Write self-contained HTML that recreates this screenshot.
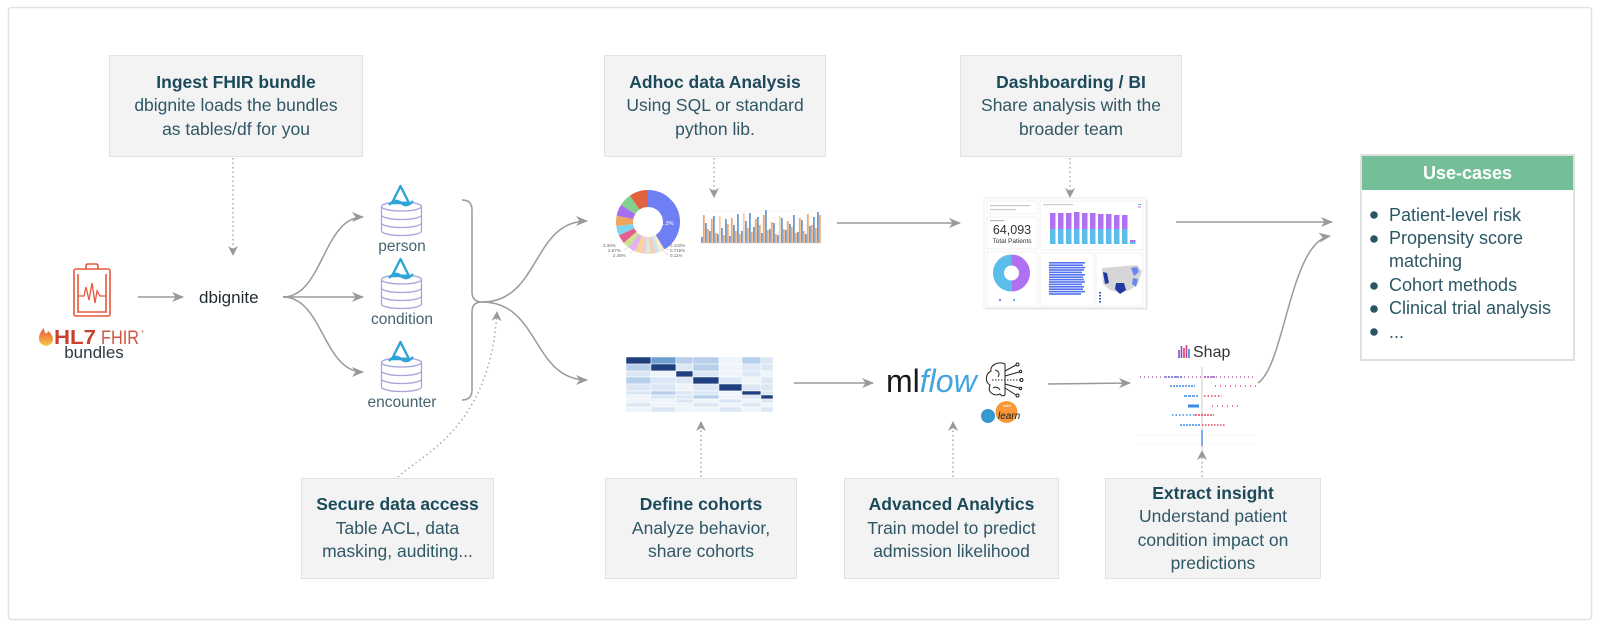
<!DOCTYPE html>
<html><head><meta charset="utf-8">
<style>
html,body{margin:0;padding:0;background:#fff;}
body{width:1600px;height:627px;position:relative;overflow:hidden;font-family:"Liberation Sans",sans-serif;}
svg{position:absolute;left:0;top:0;}
.box{position:absolute;box-sizing:border-box;background:#f3f3f3;border:1.5px solid #e2e2e2;display:flex;flex-direction:column;justify-content:center;align-items:center;text-align:center;font-size:17.5px;line-height:23.5px;color:#2f5766;white-space:nowrap;}
.box b{color:#1d4a5a;font-weight:bold;}
.uc{position:absolute;left:1360px;top:154px;width:215px;height:207px;box-sizing:border-box;border:2px solid #e0e0e0;background:#fff;}
.uch{height:34px;background:#74bf98;color:#fff;font-weight:bold;font-size:18px;line-height:34px;text-align:center;}
.ucl{position:absolute;left:1389px;top:203.5px;font-size:18px;line-height:23.4px;color:#2c5866;white-space:nowrap;}
</style></head><body>
<div class="uc"><div class="uch">Use-cases</div></div>
<div class="ucl">Patient-level risk<br>Propensity score<br>matching<br>Cohort methods<br>Clinical trial analysis<br>...</div>

<svg width="1600" height="627" viewBox="0 0 1600 627">
<defs>
<marker id="ah" markerWidth="12" markerHeight="10" refX="11" refY="5" orient="auto" markerUnits="userSpaceOnUse"><path d="M0,0 L12,5 L0,10 L3.5,5 Z" fill="#999"/></marker>
<marker id="ad" markerWidth="10" markerHeight="10" refX="9" refY="5" orient="auto" markerUnits="userSpaceOnUse"><path d="M0,0 L10,5 L0,10 L3,5 Z" fill="#999"/></marker>
<linearGradient id="fl" x1="0" y1="1" x2="0" y2="0"><stop offset="0" stop-color="#f7c844"/><stop offset="1" stop-color="#e8543a"/></linearGradient>
</defs>

<!-- outer border -->
<rect x="8.5" y="7.5" width="1583" height="612" rx="3" fill="none" stroke="#e2e2e2" stroke-width="1.5"/>

<!-- Use-cases bullets -->
<g fill="#2a5664">
<circle cx="1374" cy="215" r="3.8"/><circle cx="1374" cy="239" r="3.8"/><circle cx="1374" cy="286" r="3.8"/><circle cx="1374" cy="309" r="3.8"/><circle cx="1374" cy="332" r="3.8"/>
</g>

<!-- solid connectors -->
<g fill="none" stroke="#9a9a9a" stroke-width="1.5">
<line x1="138" y1="297" x2="183" y2="297" marker-end="url(#ah)"/>
<path d="M283,297 C323,297 323,217 363,217" marker-end="url(#ah)"/>
<line x1="283" y1="297" x2="363" y2="297" marker-end="url(#ah)"/>
<path d="M283,297 C323,297 323,372 363,372" marker-end="url(#ah)"/>
<path d="M462,200 Q472,200 472,210 L472,292 Q472,302 482,302 Q472,302 472,312 L472,390 Q472,400 462,400"/>
<path d="M482,302 C540,302 532,221 587,221" marker-end="url(#ah)"/>
<path d="M482,302 C540,302 532,380 587,380" marker-end="url(#ah)"/>
<line x1="837" y1="223" x2="960" y2="223" marker-end="url(#ah)"/>
<line x1="1176" y1="222" x2="1332" y2="222" marker-end="url(#ah)"/>
<line x1="794" y1="383" x2="873" y2="383" marker-end="url(#ah)"/>
<line x1="1048" y1="384" x2="1130" y2="383" marker-end="url(#ah)"/>
<path d="M1258,383 C1285,365 1290,242 1330,236" marker-end="url(#ah)"/>
</g>

<!-- dotted connectors -->
<g fill="none" stroke="#aaa" stroke-width="1.5" stroke-dasharray="1.5 3">
<line x1="233" y1="158" x2="233" y2="255" marker-end="url(#ad)"/>
<line x1="714" y1="158" x2="714" y2="197" marker-end="url(#ad)"/>
<line x1="1070" y1="158" x2="1070" y2="197" marker-end="url(#ad)"/>
<path d="M398,477 C420,455 490,430 497,312" marker-end="url(#ad)"/>
<line x1="701" y1="477" x2="701" y2="422" marker-end="url(#ad)"/>
<line x1="953" y1="477" x2="953" y2="422" marker-end="url(#ad)"/>
<line x1="1202" y1="477" x2="1202" y2="451" marker-end="url(#ad)"/>
</g>

<!-- HL7 icon -->
<g fill="none" stroke="#e8573c" stroke-width="1.6">
<rect x="74" y="269" width="36" height="47" rx="2"/>
<path d="M86,269 L86,266 Q86,264 88,264 L96,264 Q98,264 98,266 L98,269"/>
<path d="M78,274 L78,312 L106,312 L106,274"/>
<path d="M78,296 L84,296 L86,287 L89,300 L92,283 L95,303 L97,291 L100,296 L106,296" stroke-width="1.3"/>
</g>
<path d="M46,346 C37,344 37,335 44,328 C44,334 47,335 48,331 C54,335 56,344 46,346 Z" fill="url(#fl)"/>
<text x="54" y="344" font-size="20" font-weight="bold" fill="#c8412e" textLength="42" lengthAdjust="spacingAndGlyphs">HL7</text>
<text x="101" y="344" font-size="19" fill="#d0533f" textLength="38" lengthAdjust="spacingAndGlyphs">FHIR</text>
<text x="141" y="333" font-size="4" fill="#d0533f">®</text>
<text x="94" y="358" font-size="17" fill="#2e3b43" text-anchor="middle">bundles</text>
<text x="199" y="303" font-size="17" fill="#1f2a30">dbignite</text>

<!-- DB cylinders -->
<g fill="#fff" stroke="#a6a6dd" stroke-width="1.3">
<path d="M381.5,206.5 V231 A20,4.5 0 0 0 421.5,231 V206.5"/><ellipse cx="401.5" cy="206.5" rx="20" ry="4.5"/>
<path d="M381.5,215 A20,4.5 0 0 0 421.5,215 M381.5,223 A20,4.5 0 0 0 421.5,223" fill="none"/>
<path d="M381.5,279.5 V304 A20,4.5 0 0 0 421.5,304 V279.5"/><ellipse cx="401.5" cy="279.5" rx="20" ry="4.5"/>
<path d="M381.5,288 A20,4.5 0 0 0 421.5,288 M381.5,296 A20,4.5 0 0 0 421.5,296" fill="none"/>
<path d="M381.5,362.5 V387 A20,4.5 0 0 0 421.5,387 V362.5"/><ellipse cx="401.5" cy="362.5" rx="20" ry="4.5"/>
<path d="M381.5,371 A20,4.5 0 0 0 421.5,371 M381.5,379 A20,4.5 0 0 0 421.5,379" fill="none"/>
</g>
<g fill="none" stroke="#2ea5d6" stroke-width="2.4" stroke-linejoin="round">
<path d="M400.5,186 L392,203 L409,203 Z"/><path d="M389,205 Q395,198 401,203 Q407,208 413,201"/>
<path d="M400.5,259 L392,276 L409,276 Z"/><path d="M389,278 Q395,271 401,276 Q407,281 413,274"/>
<path d="M400.5,342 L392,359 L409,359 Z"/><path d="M389,361 Q395,354 401,359 Q407,364 413,357"/>
</g>
<g font-size="15.5" fill="#46636f" text-anchor="middle">
<text x="402" y="251">person</text><text x="402" y="324">condition</text><text x="402" y="407">encounter</text>
</g>

<!-- Pie chart -->
<g transform="rotate(-90 648 222)" fill="none" stroke-width="17">
<circle cx="648" cy="222" r="23.5" stroke="#6e7ff3" stroke-dasharray="61.11 200" stroke-dashoffset="0"/>
<circle cx="648" cy="222" r="23.5" stroke="#f6eec8" stroke-dasharray="3.69 200" stroke-dashoffset="-61.11"/>
<circle cx="648" cy="222" r="23.5" stroke="#cfe3ee" stroke-dasharray="3.28 200" stroke-dashoffset="-64.80"/>
<circle cx="648" cy="222" r="23.5" stroke="#f2cdbf" stroke-dasharray="3.69 200" stroke-dashoffset="-68.08"/>
<circle cx="648" cy="222" r="23.5" stroke="#d6ecd0" stroke-dasharray="3.69 200" stroke-dashoffset="-71.77"/>
<circle cx="648" cy="222" r="23.5" stroke="#f3c6dc" stroke-dasharray="3.69 200" stroke-dashoffset="-75.46"/>
<circle cx="648" cy="222" r="23.5" stroke="#f7d98c" stroke-dasharray="4.10 200" stroke-dashoffset="-79.16"/>
<circle cx="648" cy="222" r="23.5" stroke="#e2b3f3" stroke-dasharray="5.74 200" stroke-dashoffset="-83.26"/>
<circle cx="648" cy="222" r="23.5" stroke="#c9e58f" stroke-dasharray="4.92 200" stroke-dashoffset="-89.00"/>
<circle cx="648" cy="222" r="23.5" stroke="#e55f8f" stroke-dasharray="6.56 200" stroke-dashoffset="-93.92"/>
<circle cx="648" cy="222" r="23.5" stroke="#7fd4f2" stroke-dasharray="6.97 200" stroke-dashoffset="-100.48"/>
<circle cx="648" cy="222" r="23.5" stroke="#f0a55c" stroke-dasharray="7.79 200" stroke-dashoffset="-107.46"/>
<circle cx="648" cy="222" r="23.5" stroke="#a56ff2" stroke-dasharray="8.61 200" stroke-dashoffset="-115.25"/>
<circle cx="648" cy="222" r="23.5" stroke="#84d08f" stroke-dasharray="9.43 200" stroke-dashoffset="-123.86"/>
<circle cx="648" cy="222" r="23.5" stroke="#e0623f" stroke-dasharray="14.35 200" stroke-dashoffset="-133.30"/>
</g>
<text x="658" y="225" font-size="5.5" fill="#fff">41.3%</text>
<g stroke="#bbb" stroke-width="0.5"><line x1="630" y1="246" x2="624" y2="250"/><line x1="634" y1="249" x2="630" y2="254"/><line x1="664" y1="248" x2="669" y2="250"/><line x1="662" y1="250" x2="668" y2="255"/></g>
<g font-size="4.5" fill="#666"><text x="603" y="247">3.34%</text><text x="608" y="252">2.67%</text><text x="613" y="257">2.48%</text><text x="670" y="247">0.132%</text><text x="670" y="252">0.715%</text><text x="670" y="257">0.11%</text></g>

<!-- Bar chart -->
<g stroke="#efefef" stroke-width="0.5"><line x1="700" y1="211" x2="821" y2="211"/><line x1="700" y1="218" x2="821" y2="218"/><line x1="700" y1="225" x2="821" y2="225"/><line x1="700" y1="232" x2="821" y2="232"/><line x1="700" y1="239" x2="821" y2="239"/></g>
<g fill="#6a9bd3">
<rect x="701" y="237" width="1.8" height="6"/><rect x="705" y="223" width="1.8" height="20"/><rect x="709" y="231" width="1.8" height="12"/><rect x="713" y="216" width="1.8" height="27"/><rect x="717" y="234" width="1.8" height="9"/><rect x="721" y="228" width="1.8" height="15"/><rect x="725" y="219" width="1.8" height="24"/><rect x="729" y="236" width="1.8" height="7"/><rect x="733" y="225" width="1.8" height="18"/><rect x="737" y="214" width="1.8" height="29"/><rect x="741" y="231" width="1.8" height="12"/><rect x="745" y="221" width="1.8" height="22"/><rect x="749" y="213" width="1.8" height="30"/><rect x="753" y="227" width="1.8" height="16"/><rect x="757" y="217" width="1.8" height="26"/><rect x="761" y="233" width="1.8" height="10"/><rect x="765" y="210" width="1.8" height="33"/><rect x="769" y="229" width="1.8" height="14"/><rect x="773" y="223" width="1.8" height="20"/><rect x="777" y="235" width="1.8" height="8"/><rect x="781" y="218" width="1.8" height="25"/><rect x="785" y="230" width="1.8" height="13"/><rect x="789" y="224" width="1.8" height="19"/><rect x="793" y="215" width="1.8" height="28"/><rect x="797" y="232" width="1.8" height="11"/><rect x="801" y="220" width="1.8" height="23"/><rect x="805" y="234" width="1.8" height="9"/><rect x="809" y="226" width="1.8" height="17"/><rect x="813" y="217" width="1.8" height="26"/><rect x="817" y="212" width="1.8" height="31"/>
</g>
<g fill="#f0a86a">
<rect x="702.9" y="215" width="1.8" height="28"/><rect x="706.9" y="229" width="1.8" height="14"/><rect x="710.9" y="219" width="1.8" height="24"/><rect x="714.9" y="233" width="1.8" height="10"/><rect x="718.9" y="216" width="1.8" height="27" fill="#f8cfa8"/><rect x="722.9" y="235" width="1.8" height="8"/><rect x="726.9" y="224" width="1.8" height="19"/><rect x="730.9" y="218" width="1.8" height="25"/><rect x="734.9" y="231" width="1.8" height="12"/><rect x="738.9" y="234" width="1.8" height="9"/><rect x="742.9" y="213" width="1.8" height="30" fill="#f8cfa8"/><rect x="746.9" y="228" width="1.8" height="15"/><rect x="750.9" y="232" width="1.8" height="11"/><rect x="754.9" y="219" width="1.8" height="24"/><rect x="758.9" y="225" width="1.8" height="18"/><rect x="762.9" y="215" width="1.8" height="28"/><rect x="766.9" y="230" width="1.8" height="13"/><rect x="770.9" y="222" width="1.8" height="21"/><rect x="774.9" y="234" width="1.8" height="9"/><rect x="778.9" y="216" width="1.8" height="27" fill="#f8cfa8"/><rect x="782.9" y="229" width="1.8" height="14"/><rect x="786.9" y="221" width="1.8" height="22"/><rect x="790.9" y="227" width="1.8" height="16"/><rect x="794.9" y="233" width="1.8" height="10"/><rect x="798.9" y="218" width="1.8" height="25"/><rect x="802.9" y="231" width="1.8" height="12"/><rect x="806.9" y="214" width="1.8" height="29"/><rect x="810.9" y="225" width="1.8" height="18"/><rect x="814.9" y="228" width="1.8" height="15"/><rect x="818.9" y="215" width="1.8" height="28"/>
</g>
<line x1="700" y1="243" x2="821" y2="243" stroke="#ccc" stroke-width="0.6"/>

<!-- Dashboard -->
<rect x="985.5" y="199.5" width="162" height="110" fill="#e4e4e4"/>
<rect x="984" y="198" width="162" height="110" fill="#fff" stroke="#e6e6e6" stroke-width="0.8"/>
<g fill="#fff" stroke="#ececec" stroke-width="0.7">
<rect x="987" y="201" width="50" height="13"/><rect x="987" y="217" width="50" height="32"/><rect x="987" y="252" width="50" height="54"/>
<rect x="1040" y="201" width="103" height="49"/><rect x="1040" y="253" width="54" height="53"/><rect x="1096" y="253" width="47" height="53"/>
</g>
<rect x="990" y="205" width="40" height="1.2" fill="#c8c8c8"/><rect x="990" y="209" width="26" height="1.2" fill="#c8c8c8"/>
<rect x="990" y="220" width="14" height="1.2" fill="#bbb"/>
<text x="1012" y="234" font-size="12.5" fill="#333" text-anchor="middle">64,093</text>
<text x="1012" y="243" font-size="6.5" fill="#333" text-anchor="middle">Total Patients</text>
<g transform="rotate(-90 1011.5 273)" fill="none" stroke-width="11">
<circle cx="1011.5" cy="273" r="13" stroke="#b070f2" stroke-dasharray="40.84 100"/>
<circle cx="1011.5" cy="273" r="13" stroke="#5bbde8" stroke-dasharray="40.84 100" stroke-dashoffset="-40.84"/>
</g>
<circle cx="1000" cy="300" r="1.2" fill="#b070f2"/><circle cx="1014" cy="300" r="1.2" fill="#5bbde8"/>
<rect x="1043" y="204" width="30" height="1.2" fill="#ccc"/>
<g fill="#b070f2">
<rect x="1050" y="213" width="5.5" height="16"/><rect x="1058" y="213" width="5.5" height="16"/><rect x="1066" y="213" width="5.5" height="16"/><rect x="1074" y="212" width="5.5" height="17"/><rect x="1082" y="213" width="5.5" height="16"/><rect x="1090" y="213" width="5.5" height="16"/><rect x="1098" y="214" width="5.5" height="15"/><rect x="1106" y="214" width="5.5" height="15"/><rect x="1114" y="215" width="5.5" height="14"/><rect x="1122" y="215" width="5.5" height="14"/><rect x="1130" y="240" width="5.5" height="2"/>
</g>
<g fill="#5bbde8">
<rect x="1050" y="229" width="5.5" height="15"/><rect x="1058" y="229" width="5.5" height="15"/><rect x="1066" y="229" width="5.5" height="15"/><rect x="1074" y="229" width="5.5" height="15"/><rect x="1082" y="229" width="5.5" height="15"/><rect x="1090" y="229" width="5.5" height="15"/><rect x="1098" y="229" width="5.5" height="15"/><rect x="1106" y="229" width="5.5" height="15"/><rect x="1114" y="229" width="5.5" height="15"/><rect x="1122" y="229" width="5.5" height="15"/><rect x="1130" y="242" width="5.5" height="2"/>
</g>
<rect x="1138" y="204" width="3" height="1" fill="#5bbde8"/><rect x="1138" y="206.5" width="3" height="1" fill="#b070f2"/>
<g fill="#5271ee">
<rect x="1049" y="262" width="36" height="1.6"/><rect x="1049" y="264.4" width="34" height="1.6"/><rect x="1049" y="266.8" width="36" height="1.6"/><rect x="1049" y="269.2" width="35" height="1.6"/><rect x="1049" y="271.6" width="33" height="1.6"/><rect x="1049" y="274" width="36" height="1.6"/><rect x="1049" y="276.4" width="34" height="1.6"/><rect x="1049" y="278.8" width="35" height="1.6"/><rect x="1049" y="281.2" width="36" height="1.6"/><rect x="1049" y="283.6" width="33" height="1.6"/><rect x="1049" y="286" width="35" height="1.6"/><rect x="1049" y="288.4" width="34" height="1.6"/><rect x="1049" y="290.8" width="36" height="1.6"/><rect x="1049" y="293.2" width="32" height="1.6"/>
</g>
<path d="M1102,268 L1137,265 L1142,271 L1138,284 L1130,290 L1120,293 L1110,290 L1103,284 Z" fill="#d6d6d6"/>
<path d="M1103,272 L1107,273 L1109,283 L1105,284 Z" fill="#1f3aa0"/>
<path d="M1116,283 L1124,283 L1126,290 L1120,294 L1115,289 Z" fill="#1f3aa0"/>
<path d="M1131,268 L1137,267 L1139,272 L1134,276 Z" fill="#6a86f0"/>
<path d="M1133,278 L1138,279 L1136,287 L1132,284 Z" fill="#6a86f0"/>
<g fill="#3050c8"><rect x="1099" y="292" width="2" height="1.5"/><rect x="1099" y="295" width="2" height="1.5"/><rect x="1099" y="298" width="2" height="1.5"/><rect x="1099" y="301" width="2" height="1.5"/></g>

<!-- Table heatmap -->
<g stroke="#fff" stroke-width="0.5">
<rect x="626" y="357" width="25" height="7" fill="#1f3f7e"/><rect x="651" y="357" width="25" height="7" fill="#6f9fd0"/><rect x="676" y="357" width="17" height="7" fill="#b7cfea"/><rect x="693" y="357" width="26" height="7" fill="#b7cfea"/><rect x="719" y="357" width="23" height="7" fill="#eef4fa"/><rect x="742" y="357" width="19" height="7" fill="#b7cfea"/><rect x="761" y="357" width="12" height="7" fill="#dbe7f4"/>
<rect x="626" y="364" width="25" height="7" fill="#b7cfea"/><rect x="651" y="364" width="25" height="7" fill="#1f3f7e"/><rect x="676" y="364" width="17" height="7" fill="#dbe7f4"/><rect x="693" y="364" width="26" height="7" fill="#b7cfea"/><rect x="719" y="364" width="23" height="7" fill="#eef4fa"/><rect x="742" y="364" width="19" height="7" fill="#dbe7f4"/><rect x="761" y="364" width="12" height="7" fill="#dbe7f4"/>
<rect x="626" y="371" width="25" height="6" fill="#dbe7f4"/><rect x="651" y="371" width="25" height="6" fill="#eef4fa"/><rect x="676" y="371" width="17" height="6" fill="#1f3f7e"/><rect x="693" y="371" width="26" height="6" fill="#dbe7f4"/><rect x="719" y="371" width="23" height="6" fill="#eef4fa"/><rect x="742" y="371" width="19" height="6" fill="#dbe7f4"/><rect x="761" y="371" width="12" height="6" fill="#eef4fa"/>
<rect x="626" y="377" width="25" height="7" fill="#b7cfea"/><rect x="651" y="377" width="25" height="7" fill="#dbe7f4"/><rect x="676" y="377" width="17" height="7" fill="#dbe7f4"/><rect x="693" y="377" width="26" height="7" fill="#1f3f7e"/><rect x="719" y="377" width="23" height="7" fill="#dbe7f4"/><rect x="742" y="377" width="19" height="7" fill="#eef4fa"/><rect x="761" y="377" width="12" height="7" fill="#dbe7f4"/>
<rect x="626" y="384" width="25" height="7" fill="#dbe7f4"/><rect x="651" y="384" width="25" height="7" fill="#dbe7f4"/><rect x="676" y="384" width="17" height="7" fill="#eef4fa"/><rect x="693" y="384" width="26" height="7" fill="#dbe7f4"/><rect x="719" y="384" width="23" height="7" fill="#1f3f7e"/><rect x="742" y="384" width="19" height="7" fill="#dbe7f4"/><rect x="761" y="384" width="12" height="7" fill="#dbe7f4"/>
<rect x="626" y="391" width="25" height="4" fill="#dbe7f4"/><rect x="651" y="391" width="25" height="4" fill="#b7cfea"/><rect x="676" y="391" width="17" height="4" fill="#dbe7f4"/><rect x="693" y="391" width="26" height="4" fill="#dbe7f4"/><rect x="719" y="391" width="23" height="4" fill="#eef4fa"/><rect x="742" y="391" width="19" height="4" fill="#1f3f7e"/><rect x="761" y="391" width="12" height="4" fill="#dbe7f4"/>
<rect x="626" y="395" width="25" height="4" fill="#eef4fa"/><rect x="651" y="395" width="25" height="4" fill="#dbe7f4"/><rect x="676" y="395" width="17" height="4" fill="#dbe7f4"/><rect x="693" y="395" width="26" height="4" fill="#b7cfea"/><rect x="719" y="395" width="23" height="4" fill="#eef4fa"/><rect x="742" y="395" width="19" height="4" fill="#dbe7f4"/><rect x="761" y="395" width="12" height="4" fill="#1f3f7e"/>
<rect x="626" y="399" width="25" height="4" fill="#eef4fa"/><rect x="651" y="399" width="25" height="4" fill="#eef4fa"/><rect x="676" y="399" width="17" height="4" fill="#dbe7f4"/><rect x="693" y="399" width="26" height="4" fill="#eef4fa"/><rect x="719" y="399" width="23" height="4" fill="#dbe7f4"/><rect x="742" y="399" width="19" height="4" fill="#eef4fa"/><rect x="761" y="399" width="12" height="4" fill="#dbe7f4"/>
<rect x="626" y="403" width="25" height="4" fill="#dbe7f4"/><rect x="651" y="403" width="25" height="4" fill="#eef4fa"/><rect x="676" y="403" width="17" height="4" fill="#eef4fa"/><rect x="693" y="403" width="26" height="4" fill="#dbe7f4"/><rect x="719" y="403" width="23" height="4" fill="#eef4fa"/><rect x="742" y="403" width="19" height="4" fill="#dbe7f4"/><rect x="761" y="403" width="12" height="4" fill="#eef4fa"/>
<rect x="626" y="407" width="25" height="5" fill="#eef4fa"/><rect x="651" y="407" width="25" height="5" fill="#dbe7f4"/><rect x="676" y="407" width="17" height="5" fill="#eef4fa"/><rect x="693" y="407" width="26" height="5" fill="#eef4fa"/><rect x="719" y="407" width="23" height="5" fill="#dbe7f4"/><rect x="742" y="407" width="19" height="5" fill="#eef4fa"/><rect x="761" y="407" width="12" height="5" fill="#dbe7f4"/>
</g>

<!-- mlflow -->
<text x="886" y="392" font-size="32"><tspan fill="#1a1a1a">ml</tspan><tspan fill="#43a4e0" font-style="italic">flow</tspan></text>
<g fill="none" stroke="#222" stroke-width="1">
<path d="M1005,364 C998,361 990,365 991,371 C985,374 985,382 990,385 C987,392 994,397 1000,394 C1002,397 1005,396 1005,394 Z"/>
<path d="M995,370 C999,371 1000,374 998,377 M993,388 C996,386 999,388 1000,390"/>
<line x1="992" y1="380" x2="1020" y2="380" stroke-dasharray="1.5 1.5"/>
<path d="M1005,371 L1016,365 M1005,388 L1016,395 M1005,376 L1019,372 M1005,384 L1019,388"/>
<circle cx="1017.5" cy="364.5" r="1.5"/><circle cx="1021.5" cy="380" r="1.5"/><circle cx="1017.5" cy="395.5" r="1.5"/><circle cx="1020.5" cy="371.5" r="1.2"/><circle cx="1020.5" cy="388.5" r="1.2"/>
</g>
<circle cx="988" cy="416" r="7" fill="#3499cd"/>
<circle cx="1006.5" cy="412" r="11" fill="#f89939"/>
<text x="998" y="419" font-size="10" font-style="italic" fill="#1a1a1a">learn</text>
<text x="1003" y="407" font-size="3.5" fill="#fff">scikit</text>

<!-- Shap -->
<g stroke-width="1.6"><line x1="1179" y1="350" x2="1179" y2="358" stroke="#7b4fd0"/><line x1="1181.5" y1="346" x2="1181.5" y2="358" stroke="#a04aa8"/><line x1="1184" y1="348" x2="1184" y2="358" stroke="#e0405a"/><line x1="1186.5" y1="345" x2="1186.5" y2="358" stroke="#c04a90"/><line x1="1189" y1="349" x2="1189" y2="358" stroke="#3b7be8"/></g>
<text x="1193" y="357" font-size="16" fill="#333">Shap</text>
<line x1="1202" y1="367" x2="1202" y2="450" stroke="#c8c8c8" stroke-width="1"/>
<g fill="none" stroke-width="1.6">
<line x1="1140" y1="377" x2="1256" y2="377" stroke="#b46aa8" stroke-dasharray="1 3"/>
<line x1="1165" y1="377" x2="1182" y2="377" stroke="#5b6be0" stroke-dasharray="2 1"/>
<line x1="1204" y1="377" x2="1216" y2="377" stroke="#a050c0" stroke-dasharray="2 1"/>
<line x1="1170" y1="386" x2="1195" y2="386" stroke="#3b8beb" stroke-dasharray="2 1"/>
<line x1="1215" y1="386" x2="1256" y2="386" stroke="#e8435a" stroke-dasharray="1 4"/>
<line x1="1184" y1="396" x2="1198" y2="396" stroke="#3b8beb" stroke-dasharray="3 1"/>
<line x1="1204" y1="396" x2="1222" y2="396" stroke="#e8435a" stroke-dasharray="1.5 2"/>
<line x1="1188" y1="406" x2="1199" y2="406" stroke="#3b8beb" stroke-width="3"/>
<line x1="1212" y1="406" x2="1242" y2="406" stroke="#e8435a" stroke-dasharray="1 4"/>
<line x1="1172" y1="415" x2="1195" y2="415" stroke="#3b8beb" stroke-dasharray="1.5 2"/>
<line x1="1195" y1="415" x2="1214" y2="415" stroke="#e8435a" stroke-dasharray="2 1"/>
<line x1="1180" y1="425" x2="1201" y2="425" stroke="#3b8beb" stroke-dasharray="2 1"/>
<line x1="1202" y1="425" x2="1226" y2="425" stroke="#e8435a" stroke-dasharray="1.5 1.5"/>
<line x1="1138" y1="435" x2="1256" y2="435" stroke="#e6e6e6" stroke-dasharray="1 3"/>
<line x1="1138" y1="444" x2="1256" y2="444" stroke="#ececec" stroke-dasharray="1 3"/>
</g>
<line x1="1202" y1="430" x2="1202" y2="446" stroke="#4a8be8" stroke-width="1.4"/>
</svg>

<div class="box" style="left:109px;top:55px;width:254px;height:102px"><b>Ingest FHIR bundle</b><div>dbignite loads the bundles</div><div>as tables/df for you</div></div>
<div class="box" style="left:604px;top:55px;width:222px;height:102px"><b>Adhoc data Analysis</b><div>Using SQL or standard</div><div>python lib.</div></div>
<div class="box" style="left:960px;top:55px;width:222px;height:102px"><b>Dashboarding / BI</b><div>Share analysis with the</div><div>broader team</div></div>
<div class="box" style="left:301px;top:478px;width:193px;height:101px"><b>Secure data access</b><div>Table ACL, data</div><div>masking, auditing...</div></div>
<div class="box" style="left:605px;top:478px;width:192px;height:101px"><b>Define cohorts</b><div>Analyze behavior,</div><div>share cohorts</div></div>
<div class="box" style="left:844px;top:478px;width:215px;height:101px"><b>Advanced Analytics</b><div>Train model to predict</div><div>admission likelihood</div></div>
<div class="box" style="left:1105px;top:478px;width:216px;height:101px"><b>Extract insight</b><div>Understand patient</div><div>condition impact on</div><div>predictions</div></div>
</body></html>
